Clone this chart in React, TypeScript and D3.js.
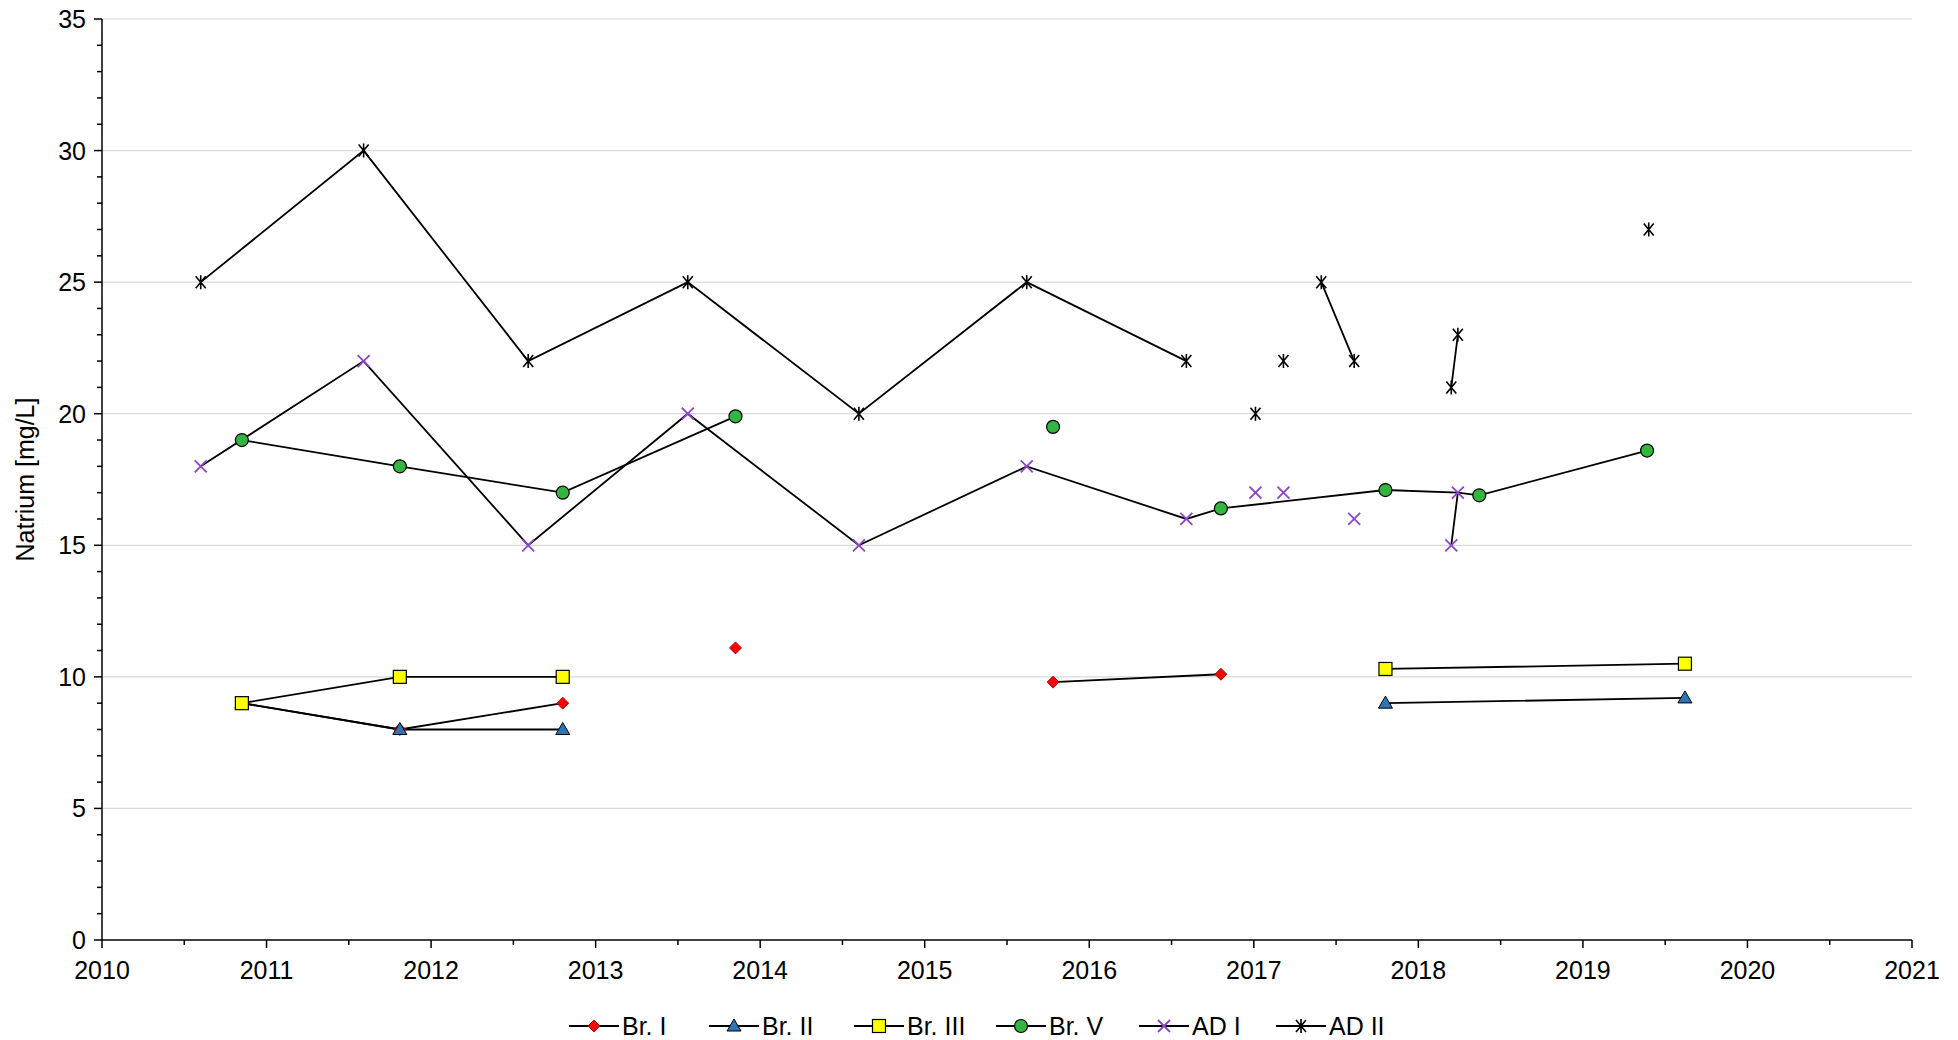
import * as d3 from 'd3'

// third element = 1 means the point only joins the line, no marker drawn
type Pt = [number, number, number?] | null

const brI: Pt[] = [[2010.85, 9], [2011.81, 8], [2012.8, 9], null, [2013.85, 11.1], null, [2015.78, 9.8], [2016.8, 10.1]]
const brII: Pt[] = [[2010.85, 9], [2011.81, 8], [2012.8, 8], null, [2017.8, 9], [2019.62, 9.2]]
const brIII: Pt[] = [[2010.85, 9], [2011.81, 10], [2012.8, 10], null, [2017.8, 10.3], [2019.62, 10.5]]
const brV: Pt[] = [[2010.85, 19], [2011.81, 18], [2012.8, 17], [2013.85, 19.9], null, [2015.78, 19.5], null,
  [2016.8, 16.4], [2017.8, 17.1], [2018.24, 17, 1], [2018.37, 16.9], [2019.39, 18.6]]
const adI: Pt[] = [[2010.6, 18], [2011.59, 22], [2012.59, 15], [2013.56, 20], [2014.6, 15], [2015.62, 18], [2016.59, 16], [2016.8, 16.4, 1], null,
  [2017.01, 17], null, [2017.18, 17], null, [2017.61, 16], null, [2018.2, 15], [2018.24, 17]]
const adII: Pt[] = [[2010.6, 25], [2011.59, 30], [2012.59, 22], [2013.56, 25], [2014.6, 20], [2015.62, 25], [2016.59, 22], null,
  [2017.01, 20], null, [2017.18, 22], null, [2017.41, 25], [2017.61, 22], null, [2018.2, 21], [2018.24, 23], null, [2019.4, 27]]

const series = [
  { name: 'Br. I', data: brI, marker: 'diamond', fill: '#ff0000' },
  { name: 'Br. II', data: brII, marker: 'triangle', fill: '#2e75b6' },
  { name: 'Br. III', data: brIII, marker: 'square', fill: '#ffff00' },
  { name: 'Br. V', data: brV, marker: 'circle', fill: '#33b540' },
  { name: 'AD I', data: adI, marker: 'x', fill: '#8e44c8' },
  { name: 'AD II', data: adII, marker: 'star', fill: '#000' },
]

const xTicks = d3.range(2010, 2022)
const yTicks = d3.range(0, 36, 5)

const W = 1958, H = 1040
const M = { left: 102, right: 1912, top: 19, bottom: 940 }

function Marker({ type, fill, x, y }: { type: string; fill: string; x: number; y: number }) {
  const t = `translate(${x},${y})`
  switch (type) {
    case 'diamond':
      return <path transform={t} d="M0,-6L6,0L0,6L-6,0Z" fill={fill} stroke="#800" strokeWidth={0.8} />
    case 'triangle':
      return <path transform={t} d="M0,-7L7,5L-7,5Z" fill={fill} stroke="#000" strokeWidth={1} />
    case 'square':
      return <rect transform={t} x={-6.5} y={-6.5} width={13} height={13} fill={fill} stroke="#000" strokeWidth={1.2} />
    case 'circle':
      return <circle cx={x} cy={y} r={6.5} fill={fill} stroke="#000" strokeWidth={1.2} />
    case 'x':
      return <path transform={t} d="M-6,-6L6,6M-6,6L6,-6" stroke={fill} strokeWidth={1.8} />
    default:
      return <path transform={t} d="M-5,-6L5,6M-5,6L5,-6M0,-7V7" stroke={fill} strokeWidth={1.6} />
  }
}

export default function App() {
  const x = d3.scaleLinear().domain([2010, 2021]).range([M.left, M.right])
  const y = d3.scaleLinear().domain([0, 35]).range([M.bottom, M.top])
  const line = d3.line<Pt>().defined((d) => d !== null).x((d) => x(d![0])).y((d) => y(d![1]))
  const font = 'Liberation Sans, Arial, sans-serif'
  const legendCenters = [594, 734, 879, 1021, 1164, 1301]

  return (
    <svg width={W} height={H} style={{ position: 'absolute', left: 0, top: 0, background: '#fff' }} fontFamily={font}>
      {yTicks.slice(1).map((t) => (
        <line key={t} x1={M.left} x2={M.right} y1={y(t)} y2={y(t)} stroke="#d9d9d9" strokeWidth={1.2} />
      ))}
      {d3.range(0, 36).map((t) => (
        <line key={'ym' + t} x1={M.left - (t % 5 === 0 ? 8 : 5)} x2={M.left} y1={y(t)} y2={y(t)} stroke="#000" strokeWidth={1.5} />
      ))}
      {d3.range(2010, 2021.01, 0.5).map((t) => (
        <line key={'xm' + t} x1={x(t)} x2={x(t)} y1={M.bottom} y2={M.bottom + (Number.isInteger(t) ? 8 : 5)} stroke="#000" strokeWidth={1.5} />
      ))}
      <line x1={M.left} x2={M.left} y1={M.top} y2={M.bottom} stroke="#000" strokeWidth={1.5} />
      <line x1={M.left} x2={M.right} y1={M.bottom} y2={M.bottom} stroke="#000" strokeWidth={1.5} />
      {yTicks.map((t) => (
        <text key={'yl' + t} x={M.left - 16} y={y(t) + 9} textAnchor="end" fontSize={25}>{t}</text>
      ))}
      {xTicks.map((t) => (
        <text key={'xl' + t} x={x(t)} y={M.bottom + 39} textAnchor="middle" fontSize={25}>{t}</text>
      ))}
      <text transform={`translate(34,${(M.top + M.bottom) / 2}) rotate(-90)`} textAnchor="middle" fontSize={25}>Natrium [mg/L]</text>
      {series.map((s) => (
        <path key={'l' + s.name} d={line(s.data) ?? ''} fill="none" stroke="#000" strokeWidth={1.8} />
      ))}
      {series.map((s) =>
        s.data.filter((d) => d !== null && !d[2]).map((d, i) => (
          <Marker key={s.name + i} type={s.marker} fill={s.fill} x={x(d![0])} y={y(d![1])} />
        ))
      )}
      {series.map((s, i) => {
        const cx = legendCenters[i]
        return (
          <g key={'lg' + s.name}>
            <line x1={cx - 25} x2={cx + 25} y1={1026} y2={1026} stroke="#000" strokeWidth={1.8} />
            <Marker type={s.marker} fill={s.fill} x={cx} y={1026} />
            <text x={cx + 28} y={1035} fontSize={25}>{s.name}</text>
          </g>
        )
      })}
    </svg>
  )
}
